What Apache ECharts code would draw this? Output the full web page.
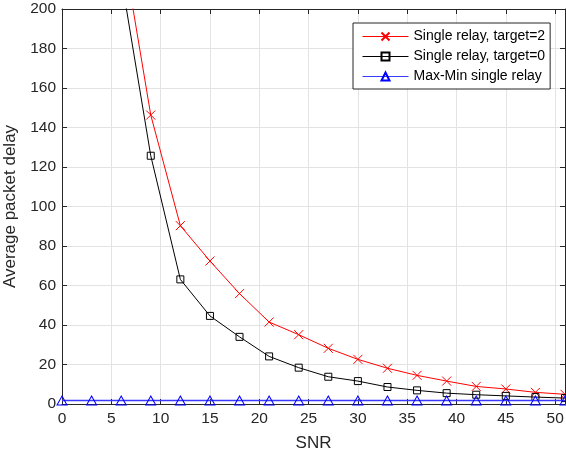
<!DOCTYPE html>
<html><head><meta charset="utf-8">
<script src="https://cdn.jsdelivr.net/npm/echarts@6/dist/echarts.min.js"></script>
<style>html,body{margin:0;padding:0;background:#fff}#c{width:566px;height:456px}</style>
</head><body><div id="c"></div>
<script>
const snr = [0,3,6,9,12,15,18,21,24,27,30,33,36,39,42,45,48,51];
const target2 = [1300,520,236,146.3,90.3,72.4,55.9,41.5,35.1,28.2,22.6,18.1,14.5,11.6,8.9,7.6,5.9,4.9];
const target0 = [1150,470,216,125.7,63.1,44.6,34.0,24.1,18.4,13.8,11.6,8.6,6.9,5.5,4.7,4.1,3.5,3.0];
const maxmin = [1.8,1.8,1.8,1.8,1.8,1.8,1.8,1.8,1.8,1.8,1.8,1.8,1.8,1.8,1.8,1.8,1.8,1.8];
const names = ['Single relay, target=2','Single relay, target=0','Max-Min single relay'];
const xTicks = {min:0, max:51, interval:5};
const yTicks = {min:0, max:200, interval:20};

const font = 'Arial, "Liberation Sans", Helvetica, sans-serif';
const axisCol = '#262626';
const pairs = arr => snr.map((x,i)=>[x,arr[i]]);
const chart = echarts.init(document.getElementById('c'), null, {renderer:'canvas'});
const xBase = {type:'value', min:xTicks.min, max:xTicks.max, interval:xTicks.interval};
const yBase = {type:'value', min:yTicks.min, max:yTicks.max, interval:yTicks.interval};
chart.setOption({
  animation:false,
  backgroundColor:'#fff',
  textStyle:{fontFamily:font},
  grid:{left:62, right:1, top:9, bottom:52, containLabel:false, outerBoundsMode:'none'},
  legend:{
    data:names, orient:'vertical', left:353, top:23,
    backgroundColor:'#fff', borderColor:'#262626', borderWidth:1,
    padding:[6,5,5,9], itemGap:5, itemWidth:46, itemHeight:10,
    lineStyle:{width:1},
    textStyle:{fontFamily:font, fontSize:14, color:'#000', lineHeight:15}
  },
  xAxis:[
    Object.assign({}, xBase, {
      position:'bottom', name:'SNR', nameLocation:'middle', nameGap:31,
      nameTextStyle:{fontSize:17, color:axisCol, fontFamily:font},
      axisLine:{show:true, onZero:false, lineStyle:{color:axisCol, width:1}},
      axisTick:{show:true, inside:true, length:5, lineStyle:{color:axisCol}},
      axisLabel:{fontSize:15.5, color:axisCol, margin:7, fontFamily:font},
      splitLine:{show:true, lineStyle:{color:'#e3e3e3', width:1}}
    }),
    Object.assign({}, xBase, {
      position:'top',
      axisLine:{show:true, onZero:false, lineStyle:{color:axisCol, width:1}},
      axisTick:{show:true, inside:true, length:5, lineStyle:{color:axisCol}},
      axisLabel:{show:false}, splitLine:{show:false}
    })
  ],
  yAxis:[
    Object.assign({}, yBase, {
      position:'left', name:'Average packet delay', nameLocation:'middle', nameGap:40,
      nameTextStyle:{fontSize:17, color:axisCol, fontFamily:font},
      axisLine:{show:true, onZero:false, lineStyle:{color:axisCol, width:1}},
      axisTick:{show:true, inside:true, length:5, lineStyle:{color:axisCol}},
      axisLabel:{fontSize:15.5, color:axisCol, margin:6, fontFamily:font},
      splitLine:{show:true, lineStyle:{color:'#e3e3e3', width:1}}
    }),
    Object.assign({}, yBase, {
      position:'right',
      axisLine:{show:true, onZero:false, lineStyle:{color:axisCol, width:1}},
      axisTick:{show:true, inside:true, length:5, lineStyle:{color:axisCol}},
      axisLabel:{show:false}, splitLine:{show:false}
    })
  ],
  series:[
    {name:names[0], type:'line', data:pairs(target2), xAxisIndex:0, yAxisIndex:0,
     symbol:'path://M0,0L10,10M10,0L0,10', symbolSize:9, showAllSymbol:true, clip:true,
     lineStyle:{color:'#ff0000', width:1}, color:'#ff0000',
     itemStyle:{color:'rgba(0,0,0,0)', borderColor:'#ff0000', borderWidth:1}, z:3},
    {name:names[1], type:'line', data:pairs(target0), xAxisIndex:0, yAxisIndex:0,
     symbol:'rect', symbolSize:7, showAllSymbol:true, clip:true,
     lineStyle:{color:'#000000', width:1}, color:'#000',
     itemStyle:{color:'rgba(0,0,0,0)', borderColor:'#000000', borderWidth:1}, z:3},
    {name:names[2], type:'line', data:pairs(maxmin), xAxisIndex:0, yAxisIndex:0,
     symbol:'triangle', symbolSize:[10,9], showAllSymbol:true, clip:false,
     lineStyle:{color:'#3a3aff', width:1.5}, color:'#0000ff',
     itemStyle:{color:'rgba(0,0,0,0)', borderColor:'#0000ff', borderWidth:1}, z:4}
  ]
});
</script></body></html>
